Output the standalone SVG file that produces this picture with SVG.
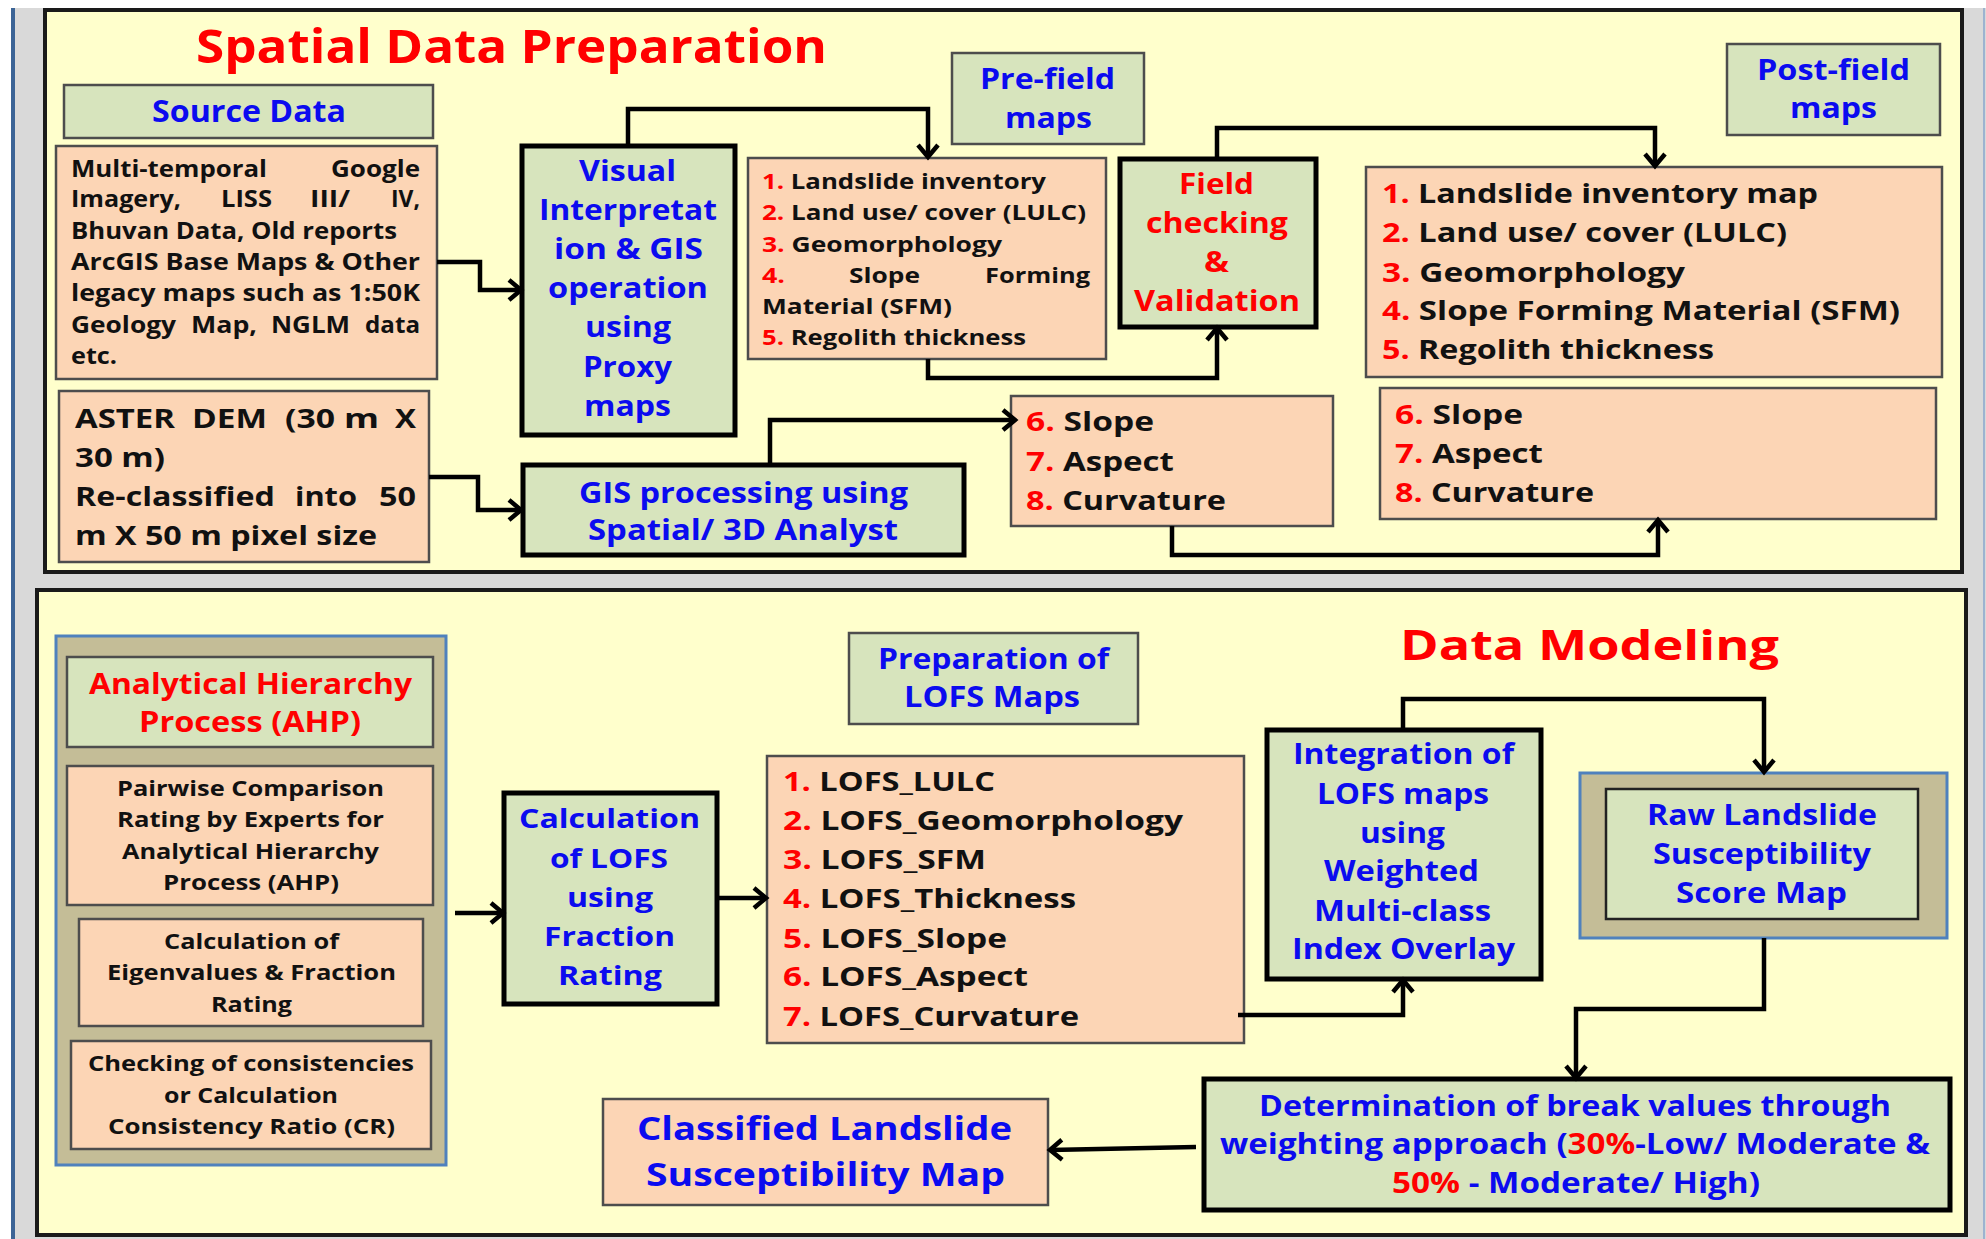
<svg xmlns="http://www.w3.org/2000/svg" width="1986" height="1239" viewBox="0 0 1986 1239">
<defs>
<style>
text{font-family:"Open Sans","Liberation Sans",sans-serif;font-weight:700;}
.bl{fill:#0B0BEF}
.rd{fill:#FF0000}
.bk{fill:#111}
.g{fill:#D7E4BD;stroke:#4d4d4d;stroke-width:2.5}
.p{fill:#FCD5B5;stroke:#4d4d4d;stroke-width:2.5}
.gk{fill:#D7E4BD;stroke:#000;stroke-width:5}
.tan{fill:#C4BD97;stroke:#4F81BD;stroke-width:3}
.panel{fill:#FFFFCC;stroke:#1a1a1a;stroke-width:4}
.conn{fill:none;stroke:#000;stroke-width:4.5;marker-end:url(#ah)}
.s21{font-size:21.5px}.s22{font-size:22px}.s24{font-size:24px}.s27{font-size:27px}.s28{font-size:28px}.s29{font-size:29px}.s30{font-size:30px}.s33{font-size:33px}
</style>
<marker id="ah" markerUnits="userSpaceOnUse" viewBox="0 0 26 26" markerWidth="26" markerHeight="26" refX="21" refY="13" orient="auto">
<path d="M9,3 L21,13 L9,23" fill="none" stroke="#000" stroke-width="4.5"/>
</marker>
</defs>
<rect x="0" y="0" width="1986" height="1239" fill="#fff"/>
<rect x="11" y="8" width="1980" height="1236" fill="#D9D9D9"/>
<rect x="11" y="8" width="4" height="1231" fill="#3C6496"/>
<rect x="1983" y="8" width="2" height="1231" fill="#9DB3D0"/>

<g id="panel-top"><rect class="panel" x="45" y="10" width="1917" height="562"/>
<text class="rd" x="196" y="63" font-size="46" textLength="631" lengthAdjust="spacingAndGlyphs">Spatial Data Preparation</text></g>
<g id="panel-bottom"><rect class="panel" x="37" y="590" width="1929" height="645"/>
<text class="rd" x="1400" y="660" font-size="42" textLength="379" lengthAdjust="spacingAndGlyphs">Data Modeling</text></g>

<g id="source-data"><rect class="g" x="64" y="85" width="369" height="53"/>
<text class="bl s30" x="152" y="122" textLength="194" lengthAdjust="spacingAndGlyphs">Source Data</text></g>

<g id="source-list"><rect class="p" x="56" y="146" width="381" height="233"/>
<g class="bk s24">
<text y="177"><tspan x="71" textLength="196" lengthAdjust="spacingAndGlyphs">Multi-temporal</tspan><tspan x="331" textLength="89" lengthAdjust="spacingAndGlyphs">Google</tspan></text>
<text y="207"><tspan x="71" textLength="110" lengthAdjust="spacingAndGlyphs">Imagery,</tspan><tspan x="221" textLength="51" lengthAdjust="spacingAndGlyphs">LISS</tspan><tspan x="310" textLength="40" lengthAdjust="spacingAndGlyphs">III/</tspan><tspan x="391" textLength="29" lengthAdjust="spacingAndGlyphs">IV,</tspan></text>
<text x="71" y="239" textLength="326" lengthAdjust="spacingAndGlyphs">Bhuvan Data, Old reports</text>
<text x="71" y="270" textLength="349" lengthAdjust="spacingAndGlyphs">ArcGIS Base Maps &amp; Other</text>
<text x="71" y="301" textLength="349" lengthAdjust="spacingAndGlyphs">legacy maps such as 1:50K</text>
<text y="333"><tspan x="71" textLength="105" lengthAdjust="spacingAndGlyphs">Geology</tspan><tspan x="191" textLength="66" lengthAdjust="spacingAndGlyphs">Map,</tspan><tspan x="271" textLength="79" lengthAdjust="spacingAndGlyphs">NGLM</tspan><tspan x="365" textLength="55" lengthAdjust="spacingAndGlyphs">data</tspan></text>
<text x="71" y="364" textLength="46" lengthAdjust="spacingAndGlyphs">etc.</text>
</g></g>

<g id="aster-dem"><rect class="p" x="59" y="391" width="370" height="171"/>
<g class="bk s27">
<text y="428"><tspan x="75" textLength="100" lengthAdjust="spacingAndGlyphs">ASTER</tspan><tspan x="192" textLength="75" lengthAdjust="spacingAndGlyphs">DEM</tspan><tspan x="285" textLength="50" lengthAdjust="spacingAndGlyphs">(30</tspan><tspan x="344" textLength="35" lengthAdjust="spacingAndGlyphs">m</tspan><tspan x="395" textLength="21" lengthAdjust="spacingAndGlyphs">X</tspan></text>
<text x="75" y="467" textLength="90" lengthAdjust="spacingAndGlyphs">30 m)</text>
<text y="506"><tspan x="75" textLength="200" lengthAdjust="spacingAndGlyphs">Re-classified</tspan><tspan x="295" textLength="62" lengthAdjust="spacingAndGlyphs">into</tspan><tspan x="379" textLength="37" lengthAdjust="spacingAndGlyphs">50</tspan></text>
<text x="75" y="545" textLength="302" lengthAdjust="spacingAndGlyphs">m X 50 m pixel size</text>
</g></g>

<g id="visual-interpretation"><rect class="gk" x="522" y="146" width="213" height="289"/>
<g class="bl s28">
<text x="579" y="181" textLength="97" lengthAdjust="spacingAndGlyphs">Visual</text>
<text x="539" y="220" textLength="178" lengthAdjust="spacingAndGlyphs">Interpretat</text>
<text x="554" y="259" textLength="149" lengthAdjust="spacingAndGlyphs">ion &amp; GIS</text>
<text x="548" y="298" textLength="160" lengthAdjust="spacingAndGlyphs">operation</text>
<text x="585" y="337" textLength="86" lengthAdjust="spacingAndGlyphs">using</text>
<text x="583" y="377" textLength="89" lengthAdjust="spacingAndGlyphs">Proxy</text>
<text x="584" y="416" textLength="87" lengthAdjust="spacingAndGlyphs">maps</text>
</g></g>

<g id="gis-processing"><rect class="gk" x="523" y="465" width="441" height="90"/>
<g class="bl s28">
<text x="579" y="503" textLength="329" lengthAdjust="spacingAndGlyphs">GIS processing using</text>
<text x="588" y="540" textLength="310" lengthAdjust="spacingAndGlyphs">Spatial/ 3D Analyst</text>
</g></g>

<g id="pre-field-maps"><rect class="g" x="952" y="53" width="192" height="91"/>
<g class="bl s28">
<text x="980" y="89" textLength="135" lengthAdjust="spacingAndGlyphs">Pre-field</text>
<text x="1005" y="128" textLength="87" lengthAdjust="spacingAndGlyphs">maps</text>
</g></g>

<g id="pre-field-list"><rect class="p" x="748" y="158" width="358" height="201"/>
<g class="bk s21">
<text x="762" y="189" textLength="284" lengthAdjust="spacingAndGlyphs"><tspan class="rd">1.</tspan> Landslide inventory</text>
<text x="762" y="220" textLength="324" lengthAdjust="spacingAndGlyphs"><tspan class="rd">2.</tspan> Land use/ cover (LULC)</text>
<text x="762" y="252" textLength="240" lengthAdjust="spacingAndGlyphs"><tspan class="rd">3.</tspan> Geomorphology</text>
<text y="283"><tspan class="rd" x="762" textLength="23" lengthAdjust="spacingAndGlyphs">4.</tspan><tspan x="849" textLength="71" lengthAdjust="spacingAndGlyphs">Slope</tspan><tspan x="985" textLength="105" lengthAdjust="spacingAndGlyphs">Forming</tspan></text>
<text x="762" y="314" textLength="190" lengthAdjust="spacingAndGlyphs">Material (SFM)</text>
<text x="762" y="345" textLength="264" lengthAdjust="spacingAndGlyphs"><tspan class="rd">5.</tspan> Regolith thickness</text>
</g></g>

<g id="field-checking"><rect class="gk" x="1120" y="159" width="196" height="168"/>
<g class="rd s28">
<text x="1179" y="194" textLength="75" lengthAdjust="spacingAndGlyphs">Field</text>
<text x="1146" y="233" textLength="142" lengthAdjust="spacingAndGlyphs">checking</text>
<text x="1204" y="272" textLength="25" lengthAdjust="spacingAndGlyphs">&amp;</text>
<text x="1134" y="311" textLength="166" lengthAdjust="spacingAndGlyphs">Validation</text>
</g></g>

<g id="terrain-pre"><rect class="p" x="1011" y="396" width="322" height="130"/>
<g class="bk s27">
<text x="1026" y="431" textLength="128" lengthAdjust="spacingAndGlyphs"><tspan class="rd">6.</tspan> Slope</text>
<text x="1026" y="471" textLength="148" lengthAdjust="spacingAndGlyphs"><tspan class="rd">7.</tspan> Aspect</text>
<text x="1026" y="510" textLength="200" lengthAdjust="spacingAndGlyphs"><tspan class="rd">8.</tspan> Curvature</text>
</g></g>

<g id="post-field-maps"><rect class="g" x="1727" y="44" width="213" height="91"/>
<g class="bl s28">
<text x="1757" y="80" textLength="153" lengthAdjust="spacingAndGlyphs">Post-field</text>
<text x="1790" y="118" textLength="87" lengthAdjust="spacingAndGlyphs">maps</text>
</g></g>

<g id="post-field-list"><rect class="p" x="1366" y="167" width="576" height="210"/>
<g class="bk s27">
<text x="1382" y="203" textLength="436" lengthAdjust="spacingAndGlyphs"><tspan class="rd">1.</tspan> Landslide inventory map</text>
<text x="1382" y="242" textLength="405" lengthAdjust="spacingAndGlyphs"><tspan class="rd">2.</tspan> Land use/ cover (LULC)</text>
<text x="1382" y="282" textLength="303" lengthAdjust="spacingAndGlyphs"><tspan class="rd">3.</tspan> Geomorphology</text>
<text x="1382" y="320" textLength="518" lengthAdjust="spacingAndGlyphs"><tspan class="rd">4.</tspan> Slope Forming Material (SFM)</text>
<text x="1382" y="359" textLength="332" lengthAdjust="spacingAndGlyphs"><tspan class="rd">5.</tspan> Regolith thickness</text>
</g></g>

<g id="terrain-post"><rect class="p" x="1380" y="388" width="556" height="131"/>
<g class="bk s27">
<text x="1395" y="424" textLength="128" lengthAdjust="spacingAndGlyphs"><tspan class="rd">6.</tspan> Slope</text>
<text x="1395" y="463" textLength="148" lengthAdjust="spacingAndGlyphs"><tspan class="rd">7.</tspan> Aspect</text>
<text x="1395" y="502" textLength="199" lengthAdjust="spacingAndGlyphs"><tspan class="rd">8.</tspan> Curvature</text>
</g></g>

<g id="ahp"><rect class="tan" x="56" y="636" width="390" height="529"/>
<g id="ahp-title"><rect class="g" x="67" y="657" width="366" height="90"/>
<text class="rd s29" x="89" y="694" textLength="323" lengthAdjust="spacingAndGlyphs">Analytical Hierarchy</text>
<text class="rd s29" x="139" y="732" textLength="222" lengthAdjust="spacingAndGlyphs">Process (AHP)</text></g>
<g id="ahp-pairwise"><rect class="p" x="67" y="766" width="366" height="139"/>
<g class="bk s22">
<text x="117" y="796" textLength="267" lengthAdjust="spacingAndGlyphs">Pairwise Comparison</text>
<text x="117" y="827" textLength="267" lengthAdjust="spacingAndGlyphs">Rating by Experts for</text>
<text x="122" y="859" textLength="257" lengthAdjust="spacingAndGlyphs">Analytical Hierarchy</text>
<text x="163" y="890" textLength="176" lengthAdjust="spacingAndGlyphs">Process (AHP)</text>
</g></g>
<g id="ahp-eigen"><rect class="p" x="79" y="919" width="344" height="107"/>
<g class="bk s22">
<text x="164" y="949" textLength="175" lengthAdjust="spacingAndGlyphs">Calculation of</text>
<text x="107" y="980" textLength="289" lengthAdjust="spacingAndGlyphs">Eigenvalues &amp; Fraction</text>
<text x="211" y="1012" textLength="81" lengthAdjust="spacingAndGlyphs">Rating</text>
</g></g>
<g id="ahp-consistency"><rect class="p" x="71" y="1041" width="360" height="108"/>
<g class="bk s22">
<text x="88" y="1071" textLength="326" lengthAdjust="spacingAndGlyphs">Checking of consistencies</text>
<text x="164" y="1103" textLength="174" lengthAdjust="spacingAndGlyphs">or Calculation</text>
<text x="108" y="1134" textLength="287" lengthAdjust="spacingAndGlyphs">Consistency Ratio (CR)</text>
</g></g>
</g>

<g id="calc-lofs"><rect class="gk" x="504" y="793" width="213" height="211"/>
<g class="bl s27">
<text x="519" y="828" textLength="181" lengthAdjust="spacingAndGlyphs">Calculation</text>
<text x="550" y="868" textLength="118" lengthAdjust="spacingAndGlyphs">of LOFS</text>
<text x="567" y="907" textLength="86" lengthAdjust="spacingAndGlyphs">using</text>
<text x="544" y="946" textLength="131" lengthAdjust="spacingAndGlyphs">Fraction</text>
<text x="558" y="985" textLength="104" lengthAdjust="spacingAndGlyphs">Rating</text>
</g></g>

<g id="prep-lofs"><rect class="g" x="849" y="633" width="289" height="91"/>
<g class="bl s28">
<text x="878" y="669" textLength="231" lengthAdjust="spacingAndGlyphs">Preparation of</text>
<text x="904" y="707" textLength="176" lengthAdjust="spacingAndGlyphs">LOFS Maps</text>
</g></g>

<g id="lofs-list"><rect class="p" x="767" y="756" width="477" height="287"/>
<g class="bk s27">
<text x="783" y="791" textLength="212" lengthAdjust="spacingAndGlyphs"><tspan class="rd">1.</tspan> LOFS_LULC</text>
<text x="783" y="830" textLength="400" lengthAdjust="spacingAndGlyphs"><tspan class="rd">2.</tspan> LOFS_Geomorphology</text>
<text x="783" y="869" textLength="203" lengthAdjust="spacingAndGlyphs"><tspan class="rd">3.</tspan> LOFS_SFM</text>
<text x="783" y="908" textLength="293" lengthAdjust="spacingAndGlyphs"><tspan class="rd">4.</tspan> LOFS_Thickness</text>
<text x="783" y="948" textLength="224" lengthAdjust="spacingAndGlyphs"><tspan class="rd">5.</tspan> LOFS_Slope</text>
<text x="783" y="986" textLength="245" lengthAdjust="spacingAndGlyphs"><tspan class="rd">6.</tspan> LOFS_Aspect</text>
<text x="783" y="1026" textLength="296" lengthAdjust="spacingAndGlyphs"><tspan class="rd">7.</tspan> LOFS_Curvature</text>
</g></g>

<g id="integration"><rect class="gk" x="1267" y="730" width="274" height="249"/>
<g class="bl s28">
<text x="1293" y="764" textLength="221" lengthAdjust="spacingAndGlyphs">Integration of</text>
<text x="1317" y="804" textLength="172" lengthAdjust="spacingAndGlyphs">LOFS maps</text>
<text x="1360" y="843" textLength="85" lengthAdjust="spacingAndGlyphs">using</text>
<text x="1324" y="881" textLength="155" lengthAdjust="spacingAndGlyphs">Weighted</text>
<text x="1314" y="921" textLength="177" lengthAdjust="spacingAndGlyphs">Multi-class</text>
<text x="1292" y="959" textLength="223" lengthAdjust="spacingAndGlyphs">Index Overlay</text>
</g></g>

<g id="raw-map"><rect class="tan" x="1580" y="773" width="367" height="165"/>
<rect class="g" x="1606" y="789" width="312" height="130" style="stroke:#222"/>
<g class="bl s28">
<text x="1647" y="825" textLength="230" lengthAdjust="spacingAndGlyphs">Raw Landslide</text>
<text x="1653" y="864" textLength="218" lengthAdjust="spacingAndGlyphs">Susceptibility</text>
<text x="1676" y="903" textLength="171" lengthAdjust="spacingAndGlyphs">Score Map</text>
</g></g>

<g id="break-values"><rect class="gk" x="1204" y="1079" width="746" height="131"/>
<g class="bl s28">
<text x="1259" y="1116" textLength="632" lengthAdjust="spacingAndGlyphs">Determination of break values through</text>
<text x="1220" y="1154" textLength="710" lengthAdjust="spacingAndGlyphs">weighting approach (<tspan class="rd">30%</tspan>-Low/ Moderate &amp;</text>
<text x="1392" y="1193" textLength="368" lengthAdjust="spacingAndGlyphs"><tspan class="rd">50%</tspan> - Moderate/ High)</text>
</g></g>

<g id="classified-map"><rect class="p" x="603" y="1099" width="445" height="106"/>
<g class="bl s33">
<text x="637" y="1140" textLength="375" lengthAdjust="spacingAndGlyphs">Classified Landslide</text>
<text x="646" y="1186" textLength="359" lengthAdjust="spacingAndGlyphs">Susceptibility Map</text>
</g></g>

<g id="connectors">
<path class="conn" d="M437,262 H480 V290 H521"/>
<path class="conn" d="M429,477 H478 V510 H521"/>
<path class="conn" d="M628,146 V109 H928 V157"/>
<path class="conn" d="M928,359 V378 H1217 V328"/>
<path class="conn" d="M1217,159 V128 H1655 V166"/>
<path class="conn" d="M770,465 V420 H1015"/>
<path class="conn" d="M1172,526 V555 H1658 V520"/>
<path class="conn" d="M455,913 H503"/>
<path class="conn" d="M717,898 H766"/>
<path class="conn" d="M1238,1015 H1403 V980"/>
<path class="conn" d="M1403,730 V699 H1764 V772"/>
<path class="conn" d="M1764,938 V1009 H1576 V1078"/>
<path class="conn" d="M1196,1147 L1050,1150"/>
</g>
</svg>
